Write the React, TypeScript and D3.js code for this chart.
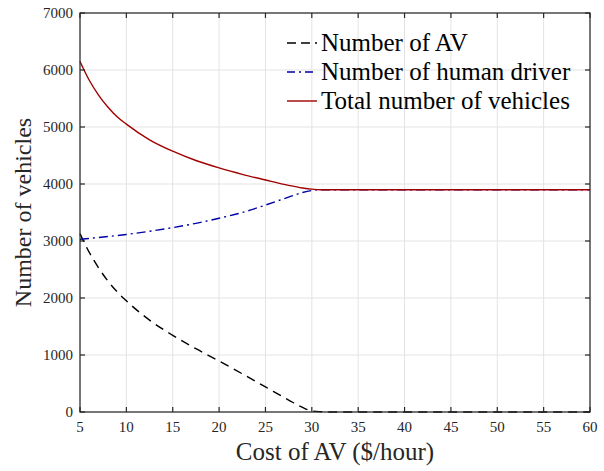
import React from "react";
import * as d3 from "d3";

const avX = [5, 6, 7, 8, 9, 10, 12.5, 15, 17.5, 20, 22.5, 25, 27.5, 29, 30, 31, 32, 35, 40, 45, 50, 55, 60];
const avY = [3130, 2800, 2530, 2300, 2110, 1950, 1612, 1345, 1110, 895, 670, 440, 210, 80, 20, 5, 0, 0, 0, 0, 0, 0, 0];

const humanX = [5, 7.5, 10, 12.5, 15, 17.5, 20, 22.5, 25, 27.5, 29, 30, 31, 35, 40, 45, 50, 55, 60];
const humanY = [3030, 3070, 3115, 3170, 3235, 3310, 3400, 3500, 3630, 3770, 3850, 3885, 3900, 3900, 3900, 3900, 3900, 3900, 3900];

const totalX = [5, 6, 7, 8, 9, 10, 12.5, 15, 17.5, 20, 22.5, 25, 27.5, 29, 30, 31, 35, 40, 45, 50, 55, 60];
const totalY = [6150, 5820, 5560, 5350, 5180, 5050, 4775, 4575, 4412, 4282, 4170, 4070, 3975, 3930, 3910, 3900, 3900, 3900, 3900, 3900, 3900, 3900];

const xTicks = [5, 10, 15, 20, 25, 30, 35, 40, 45, 50, 55, 60];
const yTicks = [0, 1000, 2000, 3000, 4000, 5000, 6000, 7000];

const seriesNames = ["Number of AV", "Number of human driver", "Total number of vehicles"];
const seriesColors = ["#000000", "#0000a8", "#a00000"];
const seriesDash = ["9,6", "9,4,2,4", "none"];

export default function App() {
  const W = 604, H = 471;
  const left = 80, right = 590, top = 13, bottom = 412;
  const x = d3.scaleLinear().domain([5, 60]).range([left, right]);
  const y = d3.scaleLinear().domain([0, 7000]).range([bottom, top]);
  const line = d3
    .line<[number, number]>()
    .x((d) => x(d[0]))
    .y((d) => y(d[1]))
    .curve(d3.curveMonotoneX);
  const series = [
    avX.map((v, i) => [v, avY[i]] as [number, number]),
    humanX.map((v, i) => [v, humanY[i]] as [number, number]),
    totalX.map((v, i) => [v, totalY[i]] as [number, number]),
  ];
  const font = "'Liberation Serif', 'Times New Roman', serif";
  const axisColor = "#262626";
  const tickLen = 5;
  return (
    <svg width={W} height={H} style={{ position: "absolute", left: 0, top: 0, background: "#fff" }}>
      <rect x={0} y={0} width={W} height={H} fill="#fff" />
      {xTicks.map((t) => (
        <line key={"gx" + t} x1={x(t)} x2={x(t)} y1={top} y2={bottom} stroke="#e3e3e3" strokeWidth={1} />
      ))}
      {yTicks.map((t) => (
        <line key={"gy" + t} x1={left} x2={right} y1={y(t)} y2={y(t)} stroke="#e3e3e3" strokeWidth={1} />
      ))}
      {series.map((s, i) => (
        <path
          key={"s" + i}
          d={line(s) || ""}
          fill="none"
          stroke={seriesColors[i]}
          strokeWidth={1.4}
          strokeDasharray={seriesDash[i]}
        />
      ))}
      <rect x={left} y={top} width={right - left} height={bottom - top} fill="none" stroke={axisColor} strokeWidth={1.2} />
      {xTicks.map((t) => (
        <g key={"tx" + t}>
          <line x1={x(t)} x2={x(t)} y1={bottom} y2={bottom - tickLen} stroke={axisColor} strokeWidth={1.2} />
          <line x1={x(t)} x2={x(t)} y1={top} y2={top + tickLen} stroke={axisColor} strokeWidth={1.2} />
          <text x={x(t)} y={432} textAnchor="middle" fontFamily={font} fontSize={15} fill={axisColor}>
            {t}
          </text>
        </g>
      ))}
      {yTicks.map((t) => (
        <g key={"ty" + t}>
          <line x1={left} x2={left + tickLen} y1={y(t)} y2={y(t)} stroke={axisColor} strokeWidth={1.2} />
          <line x1={right} x2={right - tickLen} y1={y(t)} y2={y(t)} stroke={axisColor} strokeWidth={1.2} />
          <text x={73} y={y(t) + 5} textAnchor="end" fontFamily={font} fontSize={15} fill={axisColor}>
            {t}
          </text>
        </g>
      ))}
      <text x={(left + right) / 2} y={460} textAnchor="middle" fontFamily={font} fontSize={25} fill={axisColor}>
        Cost of AV ($/hour)
      </text>
      <text
        transform={`translate(31, ${(top + bottom) / 2}) rotate(-90)`}
        textAnchor="middle"
        fontFamily={font}
        fontSize={24}
        fill={axisColor}
      >
        Number of vehicles
      </text>
      {seriesNames.map((n, i) => (
        <g key={"lg" + i}>
          <line
            x1={287}
            x2={317}
            y1={43 + i * 29}
            y2={43 + i * 29}
            stroke={seriesColors[i]}
            strokeWidth={1.4}
            strokeDasharray={i === 0 ? "9,5" : i === 1 ? "8,4,2,4" : "none"}
          />
          <text x={321} y={51 + i * 29} fontFamily={font} fontSize={25} fill="#000">
            {n}
          </text>
        </g>
      ))}
    </svg>
  );
}
